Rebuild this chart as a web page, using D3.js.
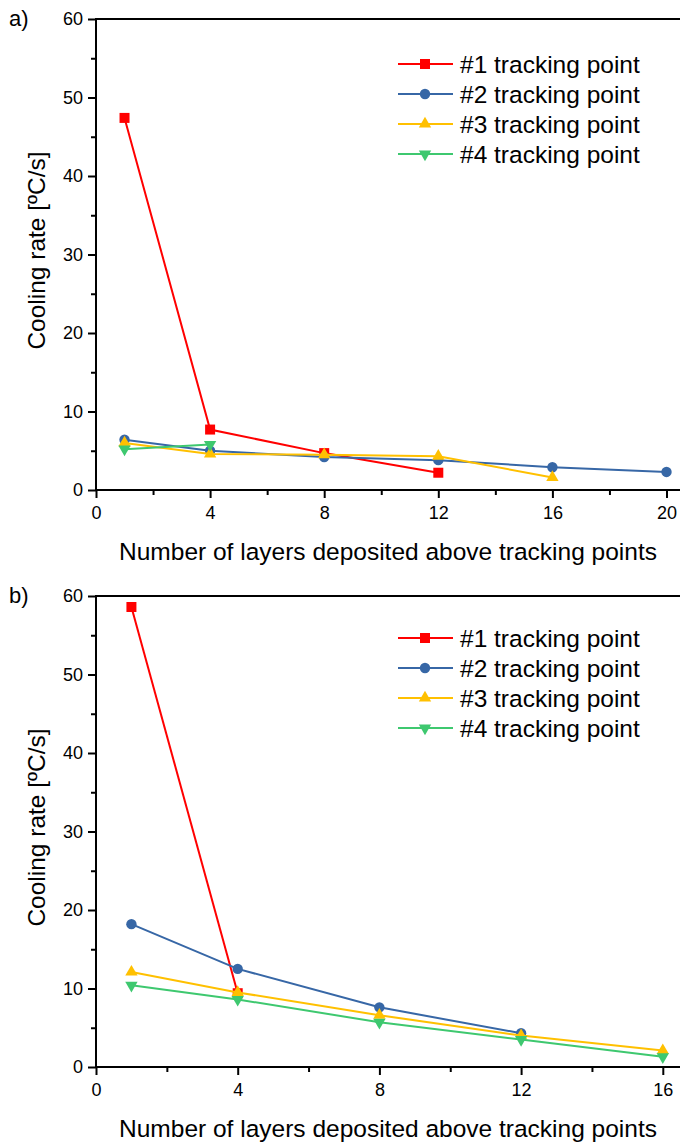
<!DOCTYPE html>
<html>
<head>
<meta charset="utf-8">
<script src="https://cdn.jsdelivr.net/npm/d3@7"></script>
<style>
  body { margin: 0; background: #fff; }
  svg { display: block; }
  text { font-family: "Liberation Sans", Arial, sans-serif; fill: #000; }
</style>
</head>
<body>
<script>
// Series shared by both panels
const seriesNames = ["#1 tracking point", "#2 tracking point", "#3 tracking point", "#4 tracking point"];
const seriesColors = ["#ff0000", "#3767a6", "#ffc000", "#3ec86f"];

// Panel a) cooling rate per tracking point
const layersA1 = [1, 4, 8, 12];
const rateA1 = [47.4, 7.7, 4.7, 2.2];
const layersA2 = [1, 4, 8, 12, 16, 20];
const rateA2 = [6.4, 5.0, 4.2, 3.8, 2.9, 2.3];
const layersA3 = [1, 4, 8, 12, 16];
const rateA3 = [6.0, 4.6, 4.5, 4.3, 1.6];
const layersA4 = [1, 4];
const rateA4 = [5.2, 5.8];

// Panel b) cooling rate per tracking point
const layersB1 = [1, 4];
const rateB1 = [58.6, 9.4];
const layersB2 = [1, 4, 8, 12];
const rateB2 = [18.2, 12.5, 7.6, 4.3];
const layersB3 = [1, 4, 8, 12, 16];
const rateB3 = [12.1, 9.5, 6.6, 4.0, 2.1];
const layersB4 = [1, 4, 8, 12, 16];
const rateB4 = [10.4, 8.6, 5.7, 3.5, 1.3];

// Axis ticks
const yTicks = [0, 10, 20, 30, 40, 50, 60];
const yMinorTicks = [5, 15, 25, 35, 45, 55];
const xTicksA = [0, 4, 8, 12, 16, 20];
const xMinorTicksA = [2, 6, 10, 14, 18];
const xTicksB = [0, 4, 8, 12, 16];
const xMinorTicksB = [2, 6, 10, 14];

const xTitle = "Number of layers deposited above tracking points";
const yTitle = "Cooling rate [ºC/s]";

const W = 680, H = 1144;
const svg = d3.select("body").append("svg").attr("width", W).attr("height", H);

const markers = [
  { type: d3.symbolSquare, size: 100, rot: 0 },
  { type: d3.symbolCircle, size: 85, rot: 0 },
  { type: d3.symbolTriangle, size: 66, rot: 0 },
  { type: d3.symbolTriangle, size: 66, rot: 180 }
];

function drawPanel(opt) {
  const g = svg.append("g");
  const x = d3.scaleLinear().domain([0, opt.xMax]).range([96, opt.xMaxPx]);
  const y = d3.scaleLinear().domain([0, 60]).range([opt.bottom, opt.top]);

  // frame: top edge and the axis lines run to the right edge
  g.append("line").attr("x1", 96).attr("x2", W).attr("y1", opt.top).attr("y2", opt.top)
    .attr("stroke", "#000").attr("stroke-width", 2);

  const xAxis = g.append("g").attr("transform", `translate(0,${opt.bottom})`)
    .call(d3.axisBottom(x).tickValues(opt.xTicks).tickFormat(d3.format("d"))
      .tickSize(8).tickSizeOuter(0).tickPadding(8));
  const xMinor = g.append("g").attr("transform", `translate(0,${opt.bottom})`)
    .call(d3.axisBottom(x).tickValues(opt.xMinor).tickFormat("").tickSize(5).tickSizeOuter(0));
  const yAxis = g.append("g").attr("transform", "translate(96,0)")
    .call(d3.axisLeft(y).tickValues(yTicks).tickFormat(d3.format("d"))
      .tickSize(8).tickSizeOuter(0).tickPadding(5));
  const yMinor = g.append("g").attr("transform", "translate(96,0)")
    .call(d3.axisLeft(y).tickValues(yMinorTicks).tickFormat("").tickSize(5).tickSizeOuter(0));

  [xAxis, xMinor, yAxis, yMinor].forEach(a => {
    a.select(".domain").remove();
    a.selectAll(".tick line").attr("stroke", "#000").attr("stroke-width", 2);
    a.selectAll(".tick text").attr("font-size", 18).attr("font-family", '"Liberation Sans", Arial, sans-serif');
  });
  // axis lines
  g.append("line").attr("x1", 96).attr("x2", W).attr("y1", opt.bottom).attr("y2", opt.bottom)
    .attr("stroke", "#000").attr("stroke-width", 2);
  g.append("line").attr("x1", 96).attr("x2", 96).attr("y1", opt.top - 1).attr("y2", opt.bottom + 1)
    .attr("stroke", "#000").attr("stroke-width", 2);

  // titles
  g.append("text").attr("x", 388).attr("y", opt.bottom + 61).attr("dy", "0.35em")
    .attr("text-anchor", "middle").attr("font-size", 24.5).text(xTitle);
  g.append("text").attr("transform", `translate(36,${(opt.top + opt.bottom) / 2 - 4}) rotate(-90)`)
    .attr("dy", "0.35em").attr("text-anchor", "middle").attr("font-size", 24.5).text(yTitle);
  g.append("text").attr("x", 9).attr("y", opt.top + 7).attr("font-size", 22).text(opt.tag);

  // series
  const line = d3.line().x(d => x(d[0])).y(d => y(d[1]));
  opt.series.forEach((s, i) => {
    const pts = s.layers.map((l, k) => [l, s.rates[k]]);
    g.append("path").datum(pts).attr("d", line).attr("fill", "none")
      .attr("stroke", seriesColors[i]).attr("stroke-width", 2);
    const m = markers[i];
    g.selectAll(null).data(pts).join("path")
      .attr("d", d3.symbol().type(m.type).size(m.size))
      .attr("transform", d => `translate(${x(d[0])},${y(d[1])}) rotate(${m.rot})`)
      .attr("fill", seriesColors[i]);
  });

  // legend
  const lg = g.append("g");
  seriesNames.forEach((name, i) => {
    const cy = opt.legendTop + i * 30;
    lg.append("line").attr("x1", 398).attr("x2", 453).attr("y1", cy).attr("y2", cy)
      .attr("stroke", seriesColors[i]).attr("stroke-width", 2);
    const m = markers[i];
    lg.append("path").attr("d", d3.symbol().type(m.type).size(m.size))
      .attr("transform", `translate(425,${cy}) rotate(${m.rot})`).attr("fill", seriesColors[i]);
    lg.append("text").attr("x", 460).attr("y", cy).attr("dy", "0.35em")
      .attr("font-size", 24.5).text(name);
  });
}

drawPanel({
  tag: "a)", top: 19, bottom: 490, xMax: 20, xMaxPx: 666.5,
  xTicks: xTicksA, xMinor: xMinorTicksA, legendTop: 64,
  series: [
    { layers: layersA1, rates: rateA1 },
    { layers: layersA2, rates: rateA2 },
    { layers: layersA3, rates: rateA3 },
    { layers: layersA4, rates: rateA4 }
  ]
});

drawPanel({
  tag: "b)", top: 596, bottom: 1067, xMax: 16, xMaxPx: 662.8,
  xTicks: xTicksB, xMinor: xMinorTicksB, legendTop: 638,
  series: [
    { layers: layersB1, rates: rateB1 },
    { layers: layersB2, rates: rateB2 },
    { layers: layersB3, rates: rateB3 },
    { layers: layersB4, rates: rateB4 }
  ]
});
</script>
</body>
</html>
